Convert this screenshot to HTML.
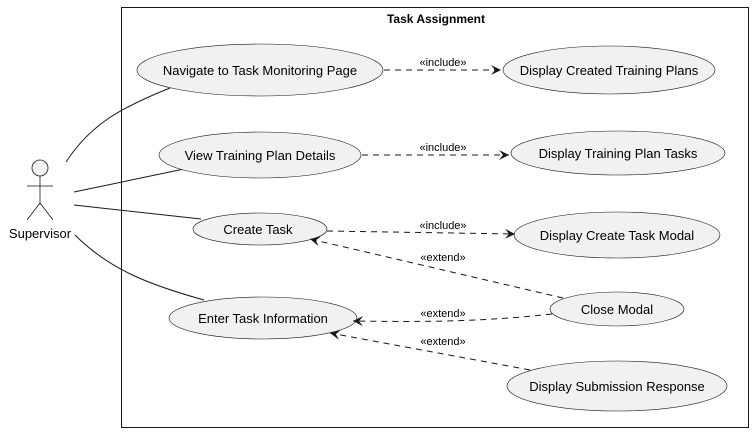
<!DOCTYPE html>
<html><head><meta charset="utf-8"><style>
html,body{margin:0;padding:0;background:#fff;}
svg{display:block;}
text{font-family:"Liberation Sans",sans-serif;font-size:13px;fill:#000;}
.s{font-size:11px;}
</style></head><body>
<svg width="755" height="432" viewBox="0 0 755 432" xmlns="http://www.w3.org/2000/svg">
<defs>
<marker id="a" markerWidth="12" markerHeight="10" refX="10" refY="5" orient="auto" markerUnits="userSpaceOnUse">
<path d="M0,0 L10,5 L0,10 L4,5 Z" fill="#181818"/>
</marker>
</defs>
<rect x="121.5" y="7.5" width="627" height="420" fill="none" stroke="#181818" stroke-width="1"/>
<text x="436" y="23" text-anchor="middle" style="font-weight:bold;font-size:12px">Task Assignment</text>

<g stroke="#181818" fill="none" stroke-width="0.8">
<circle cx="40" cy="168" r="8" fill="#f1f1f1"/>
<line x1="40" y1="176" x2="40" y2="203"/>
<line x1="27" y1="186" x2="53" y2="186"/>
<line x1="40" y1="203" x2="27" y2="220"/>
<line x1="40" y1="203" x2="53" y2="220"/>
</g>
<text x="40" y="238" text-anchor="middle">Supervisor</text>

<g stroke="#181818" fill="none" stroke-width="1">
<path d="M66,162 C90,125 120,108 170,88"/>
<path d="M74,192 L184,169"/>
<path d="M74,205 L201,219"/>
<path d="M75,235 C110,270 150,285 204,300"/>
</g>

<g fill="#f1f1f1" stroke="#181818" stroke-width="0.6">
<ellipse cx="260" cy="70" rx="123" ry="26"/>
<ellipse cx="609" cy="70" rx="106" ry="24"/>
<ellipse cx="260" cy="155" rx="101" ry="23"/>
<ellipse cx="618" cy="153" rx="107" ry="22"/>
<ellipse cx="260" cy="229" rx="67" ry="16"/>
<ellipse cx="617" cy="235" rx="103" ry="23"/>
<ellipse cx="617" cy="309" rx="67" ry="17"/>
<ellipse cx="263" cy="318" rx="94" ry="21"/>
<ellipse cx="617" cy="386" rx="110" ry="25"/>
</g>
<g text-anchor="middle">
<text x="260" y="75">Navigate to Task Monitoring Page</text>
<text x="609" y="75">Display Created Training Plans</text>
<text x="260" y="160">View Training Plan Details</text>
<text x="618" y="158">Display Training Plan Tasks</text>
<text x="258" y="234">Create Task</text>
<text x="617" y="240">Display Create Task Modal</text>
<text x="617" y="314">Close Modal</text>
<text x="263" y="323">Enter Task Information</text>
<text x="617" y="391">Display Submission Response</text>
</g>

<g stroke="#181818" fill="none" stroke-width="1" stroke-dasharray="6,5">
<path d="M384,70 L501,70" marker-end="url(#a)"/>
<path d="M362,155 L509,155" marker-end="url(#a)"/>
<path d="M327,231 L515,234" marker-end="url(#a)"/>
<path d="M563,298 L310,239" marker-end="url(#a)"/>
<path d="M552,314 C480,322 420,322 353,321" marker-end="url(#a)"/>
<path d="M530,370 L330,333" marker-end="url(#a)"/>
</g>
<g text-anchor="middle">
<text class="s" x="443" y="66">«include»</text>
<text class="s" x="443" y="151">«include»</text>
<text class="s" x="443" y="229">«include»</text>
<text class="s" x="443" y="261">«extend»</text>
<text class="s" x="443" y="317">«extend»</text>
<text class="s" x="443" y="345">«extend»</text>
</g>
</svg>
</body></html>
